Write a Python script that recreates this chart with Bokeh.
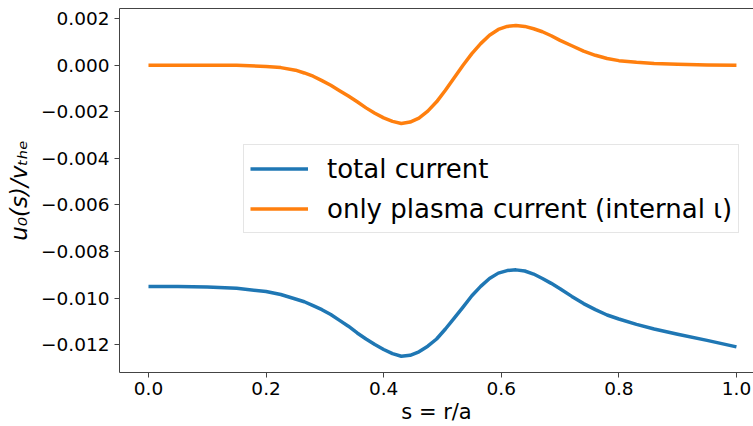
from bokeh.plotting import figure
from bokeh.models import Range1d, LinearAxis, CustomJSTickFormatter, FixedTicker, Legend, LegendItem
from bokeh.embed import file_html
from bokeh.resources import INLINE

s = [0.0, 0.05, 0.1, 0.15, 0.2, 0.225, 0.25,
     0.265, 0.28, 0.295, 0.31, 0.325, 0.34, 0.355, 0.37, 0.385, 0.4, 0.415, 0.43, 0.445,
     0.46, 0.475, 0.49, 0.505, 0.52, 0.535, 0.55, 0.565, 0.58, 0.595, 0.61, 0.625, 0.64,
     0.655, 0.67, 0.685, 0.7,
     0.72, 0.74, 0.76, 0.78, 0.8, 0.83, 0.86, 0.9, 0.95, 1.0]
total_current = [-0.0095, -0.00951, -0.00953, -0.00958, -0.00972, -0.00985, -0.01004,
                 -0.01016, -0.01033, -0.0105, -0.01071, -0.01096, -0.01121, -0.0115,
                 -0.01176, -0.012, -0.01221, -0.01239, -0.0125, -0.01246, -0.01231,
                 -0.01207, -0.01176, -0.01133, -0.01086, -0.01039, -0.0099, -0.0095,
                 -0.00916, -0.00893, -0.00882, -0.00879, -0.00884, -0.00897, -0.00916,
                 -0.00937, -0.0096,
                 -0.00993, -0.01024, -0.0105, -0.01073, -0.0109, -0.01113, -0.01133,
                 -0.01156, -0.01182, -0.0121]
plasma_current = [0.0, 0.0, 0.0, 0.0, -0.00005, -0.0001, -0.00021,
                  -0.00033, -0.00047, -0.00066, -0.00086, -0.00109, -0.00132, -0.00157,
                  -0.00183, -0.00206, -0.00226, -0.00241, -0.0025, -0.00244, -0.00227,
                  -0.00197, -0.00157, -0.00107, -0.00054, 0.0, 0.0005, 0.00093, 0.00129,
                  0.00154, 0.00167, 0.00171, 0.00167, 0.00157, 0.00144, 0.00127, 0.00107,
                  0.00084, 0.00061, 0.00043, 0.00029, 0.0002, 0.00013, 0.00008, 0.00004,
                  0.00001, 0.0]
x_ticks = [0.0, 0.2, 0.4, 0.6, 0.8, 1.0]
y_ticks = [0.002, 0.0, -0.002, -0.004, -0.006, -0.008, -0.010, -0.012]
labels = ["total current", "only plasma current (internal \u03b9)"]

p = figure(width=753, height=426, output_backend="svg", toolbar_location=None,
           x_range=Range1d(-0.0493, 1.029), y_range=Range1d(-0.0132, 0.00244),
           min_border_left=119, min_border_right=0, min_border_top=8, min_border_bottom=53)
p.outline_line_color = None
p.grid.visible = False
p.background_fill_color = "white"

r1 = p.line(s, total_current, line_color="#1f77b4", line_width=3.5, line_join="round")
r2 = p.line(s, plasma_current, line_color="#ff7f0e", line_width=3.5, line_join="round")

for ax in (p.xaxis[0], p.yaxis[0]):
    ax.axis_line_color = "#444444"
    ax.major_tick_line_color = "#444444"
    ax.major_tick_out = 5
    ax.major_tick_in = 0
    ax.minor_tick_line_color = None
    ax.major_label_text_font = "DejaVu Sans"
    ax.major_label_text_font_size = "18.5px"
    ax.major_label_text_color = "black"
    ax.axis_label_text_font = "DejaVu Sans"
    ax.axis_label_text_font_size = "21px"
    ax.axis_label_text_font_style = "normal"
    ax.axis_label_text_color = "black"

p.xaxis[0].ticker = FixedTicker(ticks=x_ticks)
p.yaxis[0].ticker = FixedTicker(ticks=y_ticks)
p.xaxis[0].formatter = CustomJSTickFormatter(code="return tick.toFixed(1);")
p.yaxis[0].formatter = CustomJSTickFormatter(
    code="var t = Math.abs(tick) < 1e-12 ? 0 : tick; return t.toFixed(3).replace('-', '\u2212');")
p.xaxis[0].axis_label = "s = r/a"
p.yaxis[0].axis_label = "u\u2080(s)/v\u209c\u2095\u2091"
p.yaxis[0].axis_label_text_font_style = "italic"
p.yaxis[0].axis_label_text_font_size = "23px"
p.xaxis[0].axis_label_standoff = 2
p.yaxis[0].axis_label_standoff = 6
p.xaxis[0].major_label_standoff = 4

top = LinearAxis(ticker=FixedTicker(ticks=[]), major_label_text_font_size="0px",
                 axis_line_color="#444444", major_tick_line_color=None,
                 minor_tick_line_color=None)
p.add_layout(top, "above")

legend = Legend(items=[LegendItem(label=labels[0], renderers=[r1]),
                       LegendItem(label=labels[1], renderers=[r2])],
                location=(124, 139), label_text_font="DejaVu Sans",
                label_text_font_size="26px", label_text_color="black",
                glyph_width=58, glyph_height=35,
                label_height=35, label_standoff=19, spacing=5, padding=6, margin=0,
                border_line_color="#cccccc", border_line_width=1,
                background_fill_alpha=0.8)
p.add_layout(legend, "center")

open("out.html", "w").write(file_html(p, INLINE))
